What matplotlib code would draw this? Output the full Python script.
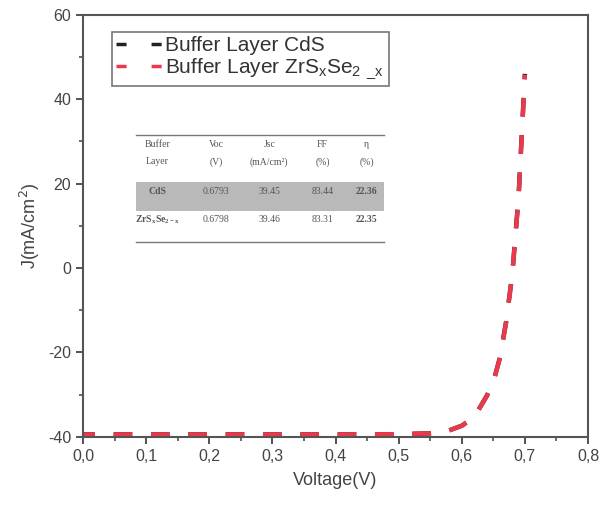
import matplotlib
matplotlib.use('Agg')
import matplotlib.pyplot as plt
from matplotlib.ticker import MultipleLocator, FuncFormatter
from matplotlib.patches import Rectangle

# J-V data (both buffer layers overlap)
voltage = [0.00, 0.10, 0.20, 0.30, 0.40, 0.50, 0.55, 0.58, 0.60, 0.62,
           0.64, 0.65, 0.66, 0.67, 0.68, 0.69, 0.70]
j_cds = [-39.45, -39.45, -39.45, -39.45, -39.44, -39.40, -39.2, -38.5, -37.4, -35.3,
         -30.2, -27.0, -21.5, -13.0, -1.5, 17.0, 46.0]
j_zrsse = [-39.46, -39.46, -39.46, -39.46, -39.45, -39.41, -39.2, -38.5, -37.4, -35.3,
           -30.3, -27.1, -21.6, -13.1, -1.6, 16.8, 45.8]

label_cds = 'Buffer Layer CdS'
label_zr = r'Buffer Layer ZrS$_\mathregular{x}$Se$_\mathregular{2}$ $_\mathregular{\_x}$'

# inset table
tab_header1 = ['Buffer', 'Voc', 'Jsc', 'FF', 'η']
tab_header2 = ['Layer', '(V)', '(mA/cm²)', '(%)', '(%)']
tab_rows = [['CdS', '0.6793', '39.45', '83.44', '22.36'],
            [r'ZrS$_\mathregular{x}$Se$_\mathregular{2-x}$', '0.6798', '39.46', '83.31', '22.35']]

plt.rcParams['font.family'] = ['Liberation Sans', 'DejaVu Sans']
plt.rcParams['axes.unicode_minus'] = False

fig = plt.figure(figsize=(6.1, 5.09), dpi=100)
ax = fig.add_axes([0.136, 0.142, 0.828, 0.829])

ax.plot(voltage, j_cds, color='#222222', lw=3.2, linestyle=(1.5, (4.2, 4.2)),
        label=label_cds)
ax.plot(voltage, j_zrsse, color='#e8394d', lw=3.2, linestyle=(1.5, (4.2, 4.2)),
        label=label_zr)

ax.set_xlim(0, 0.8)
ax.set_ylim(-40, 60)
ax.xaxis.set_major_locator(MultipleLocator(0.1))
ax.xaxis.set_minor_locator(MultipleLocator(0.05))
ax.yaxis.set_major_locator(MultipleLocator(20))
ax.yaxis.set_minor_locator(MultipleLocator(10))
ax.xaxis.set_major_formatter(FuncFormatter(lambda v, p: '{:.1f}'.format(v).replace('.', ',')))
ax.tick_params(which='major', direction='out', length=5, width=1.3, colors='#444444',
               labelsize=11.5, labelcolor='#444444')
ax.tick_params(which='minor', direction='out', length=3, width=1.1, colors='#444444')
for s in ax.spines.values():
    s.set_linewidth(1.5)
    s.set_color('#555555')

ax.set_xlabel('Voltage(V)', fontsize=13, color='#444444', labelpad=6)
ax.set_ylabel('J(mA/cm$^2$)', fontsize=13, color='#444444', labelpad=4)

leg = ax.legend(loc='upper left', bbox_to_anchor=(0.058, 0.96), fontsize=15,
                frameon=True, fancybox=False, handlelength=2.2, handletextpad=0.15,
                borderpad=0.2, labelspacing=0.1, borderaxespad=0)
leg.get_frame().set_edgecolor('#555555')
leg.get_frame().set_linewidth(1.2)
for h in leg.get_lines():
    h.set_linewidth(2.5)
    h.set_linestyle((0, (2.9, 7.2)))
for t in leg.get_texts():
    t.set_color('#333333')

# inset table drawn in axes fraction
def fx(px):
    return (px - 84) / 504.0

def fy(py):
    return (437 - py) / 422.0

tf = ax.transAxes
ax.plot([fx(137), fx(384)], [fy(135), fy(135)], transform=tf, color='#777777', lw=1.0)
ax.plot([fx(137), fx(384)], [fy(242), fy(242)], transform=tf, color='#777777', lw=1.0)
ax.add_patch(Rectangle((fx(137), fy(211)), fx(384) - fx(137), fy(182) - fy(211),
                       transform=tf, facecolor='#b9b9b9', edgecolor='none', zorder=1))
col_x = [158, 217, 270, 323, 367]
tkw = dict(transform=tf, ha='center', va='center', fontsize=7, color='#555555',
           family=['Liberation Serif', 'DejaVu Serif'], zorder=3)
for i, cx in enumerate(col_x):
    ax.text(fx(cx), fy(145), tab_header1[i], **tkw)
    ax.text(fx(cx), fy(162), tab_header2[i], **tkw)
row_y = [192, 220]
for r, ry in enumerate(row_y):
    for i, cx in enumerate(col_x):
        bold = (i == 0 or i == 4)
        ax.text(fx(cx), fy(ry), tab_rows[r][i], fontweight='bold' if bold else 'normal', **tkw)

fig.savefig('out.png', dpi=100)
